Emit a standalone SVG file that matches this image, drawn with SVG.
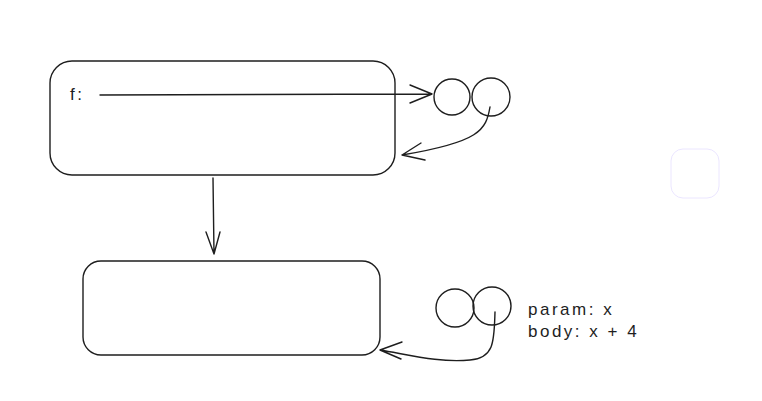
<svg xmlns="http://www.w3.org/2000/svg" width="762" height="401" viewBox="0 0 762 401">
<style>
.s{fill:none;stroke:#1e1e1e;stroke-width:1.4;stroke-linecap:round;stroke-linejoin:round}
.t{font-family:"Liberation Sans",sans-serif;font-size:17px;fill:#1e1e1e;letter-spacing:2.5px}
</style>
<rect width="762" height="401" fill="#fff"/>
<g id="box1"><rect class="s" x="50" y="61" width="345" height="114" rx="22"/><text class="t" x="70" y="100">f:</text></g>
<g id="pair1"><circle class="s" cx="452" cy="97" r="18"/><circle class="s" cx="491" cy="97" r="19"/></g>
<g id="box2"><rect class="s" x="83" y="261" width="297" height="94" rx="18"/></g>
<g id="pair2"><circle class="s" cx="455" cy="308" r="19"/><circle class="s" cx="492" cy="306" r="19"/>
<text class="t" x="528" y="315">param: x</text><text class="t" x="528" y="337">body: x + 4</text></g>
<g id="ghost"><rect x="671" y="149" width="48" height="49" rx="12" fill="none" stroke="#ebe6ff" stroke-width="1"/></g>
<g id="connectors">
<path class="s" d="M100 95 L432 94 M410 85 L432 94 L410 103"/>
<path class="s" d="M490 107 C486 130 480 142 402 155 M421 143 L402 155 L425 160"/>
<path class="s" d="M213 178 L214 254 M206 232 L214 254 L220 232"/>
<path class="s" d="M495 312 C494 340 495 358 470 360 C440 363 410 355 380 350 M402 342 L380 350 L401 359"/>
</g>
</svg>
